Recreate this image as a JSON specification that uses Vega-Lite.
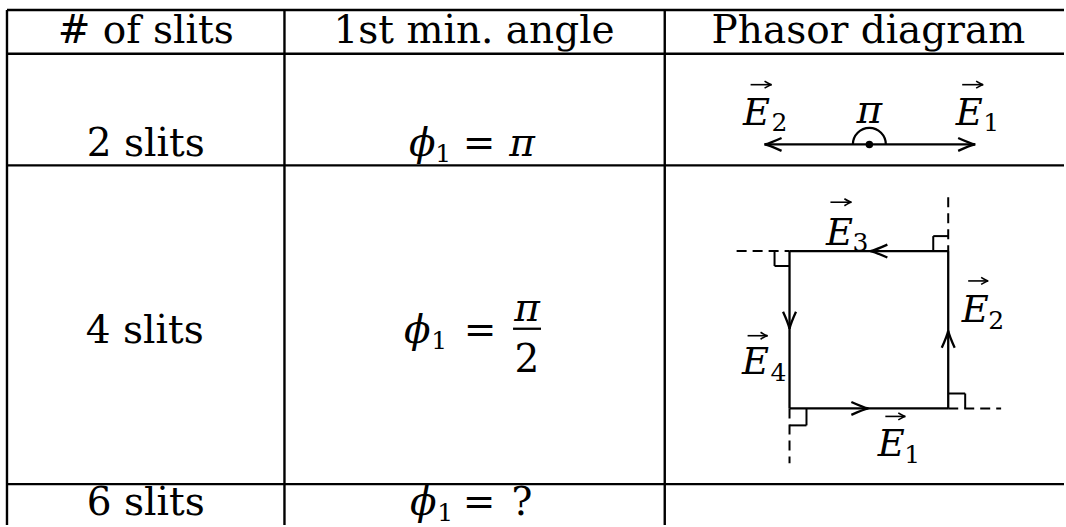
{
  "$schema": "https://vega.github.io/schema/vega-lite/v6.json",
  "width": 1066,
  "height": 527,
  "autosize": {"type": "fit", "contains": "padding"},
  "padding": 0,
  "background": "white",
  "config": {"view": {"stroke": null}},
  "datasets": {
    "grid": [
      {"x": 7, "y": 10, "x2": 1066, "y2": 10},
      {"x": 7, "y": 54, "x2": 1066, "y2": 54},
      {"x": 7, "y": 166, "x2": 1066, "y2": 166},
      {"x": 7, "y": 486, "x2": 1066, "y2": 486},
      {"x": 7, "y": 10, "x2": 7, "y2": 527},
      {"x": 285, "y": 10, "x2": 285, "y2": 527},
      {"x": 666, "y": 10, "x2": 666, "y2": 527}
    ],
    "vec": [
      {"x": 766, "y": 145, "x2": 977, "y2": 145},
      {"x": 791, "y": 410, "x2": 950, "y2": 410},
      {"x": 950, "y": 410, "x2": 950, "y2": 252},
      {"x": 950, "y": 252, "x2": 791, "y2": 252},
      {"x": 791, "y": 252, "x2": 791, "y2": 410},
      {"x": 514, "y": 330, "x2": 542, "y2": 330}
    ],
    "dash": [
      {"x": 738, "y": 252, "x2": 791, "y2": 252},
      {"x": 950, "y": 198, "x2": 950, "y2": 252},
      {"x": 950, "y": 410, "x2": 1003, "y2": 410},
      {"x": 791, "y": 410, "x2": 791, "y2": 465}
    ],
    "corner": [
      {"x": 935, "y": 252, "x2": 935, "y2": 237},
      {"x": 935, "y": 237, "x2": 950, "y2": 237},
      {"x": 776, "y": 252, "x2": 776, "y2": 267},
      {"x": 776, "y": 267, "x2": 791, "y2": 267},
      {"x": 808, "y": 410, "x2": 808, "y2": 427},
      {"x": 791, "y": 427, "x2": 808, "y2": 427},
      {"x": 950, "y": 395, "x2": 967, "y2": 395},
      {"x": 967, "y": 395, "x2": 967, "y2": 410}
    ],
    "heads": [
      {"x": 766, "y": 145, "a": 180},
      {"x": 977, "y": 145, "a": 0},
      {"x": 870, "y": 410, "a": 0},
      {"x": 950, "y": 332, "a": 270},
      {"x": 872, "y": 252, "a": 180},
      {"x": 791, "y": 330, "a": 90}
    ],
    "smallvec": [
      {"x": 752, "y": 85, "x2": 773, "y2": 85},
      {"x": 964, "y": 85, "x2": 985, "y2": 85},
      {"x": 832, "y": 203, "x2": 853, "y2": 203},
      {"x": 970, "y": 282, "x2": 990, "y2": 282},
      {"x": 749, "y": 337, "x2": 769, "y2": 337},
      {"x": 887, "y": 418, "x2": 907, "y2": 418}
    ],
    "pivot": [{"x": 871, "y": 145}],
    "roman": [
      {"x": 146, "y": 43, "t": "# of slits"},
      {"x": 475, "y": 43, "t": "1st min. angle"},
      {"x": 870, "y": 43, "t": "Phasor diagram"},
      {"x": 146, "y": 157, "t": "2 slits"},
      {"x": 145, "y": 344, "t": "4 slits"},
      {"x": 146, "y": 517, "t": "6 slits"},
      {"x": 480, "y": 157, "t": "="},
      {"x": 481, "y": 344, "t": "="},
      {"x": 528, "y": 373, "t": "2"},
      {"x": 480, "y": 517, "t": "="},
      {"x": 523, "y": 517, "t": "?"}
    ],
    "italic": [
      {"x": 423, "y": 157, "t": "ϕ"},
      {"x": 523, "y": 157, "t": "π"},
      {"x": 418, "y": 344, "t": "ϕ"},
      {"x": 528, "y": 322, "t": "π"},
      {"x": 424, "y": 517, "t": "ϕ"},
      {"x": 871, "y": 123, "t": "π"}
    ],
    "sub": [
      {"x": 444, "y": 163, "t": "1"},
      {"x": 440, "y": 350, "t": "1"},
      {"x": 446, "y": 523, "t": "1"}
    ],
    "elabel": [
      {"x": 758, "y": 125, "t": "E"},
      {"x": 971, "y": 125, "t": "E"},
      {"x": 841, "y": 246, "t": "E"},
      {"x": 977, "y": 323, "t": "E"},
      {"x": 757, "y": 375, "t": "E"},
      {"x": 893, "y": 458, "t": "E"}
    ],
    "esub": [
      {"x": 781, "y": 132, "t": "2"},
      {"x": 993, "y": 132, "t": "1"},
      {"x": 862, "y": 252, "t": "3"},
      {"x": 998, "y": 330, "t": "2"},
      {"x": 780, "y": 382, "t": "4"},
      {"x": 914, "y": 465, "t": "1"}
    ]
  },
  "layer": [
    {
      "data": {"name": "grid"},
      "mark": {"type": "rule", "color": "black", "strokeWidth": 2.4},
      "encoding": {
        "x": {"field": "x", "type": "quantitative", "scale": {"domain": [0, 1066], "nice": false, "zero": false}, "axis": null},
        "y": {"field": "y", "type": "quantitative", "scale": {"domain": [0, 527], "nice": false, "zero": false, "reverse": true}, "axis": null},
        "x2": {"field": "x2"},
        "y2": {"field": "y2"}
      }
    },
    {
      "data": {"name": "vec"},
      "mark": {"type": "rule", "color": "black", "strokeWidth": 2.3},
      "encoding": {
        "x": {"field": "x", "type": "quantitative"},
        "y": {"field": "y", "type": "quantitative"},
        "x2": {"field": "x2"},
        "y2": {"field": "y2"}
      }
    },
    {
      "data": {"name": "dash"},
      "mark": {"type": "rule", "color": "black", "strokeWidth": 2, "strokeDash": [10, 6]},
      "encoding": {
        "x": {"field": "x", "type": "quantitative"},
        "y": {"field": "y", "type": "quantitative"},
        "x2": {"field": "x2"},
        "y2": {"field": "y2"}
      }
    },
    {
      "data": {"name": "corner"},
      "mark": {"type": "rule", "color": "black", "strokeWidth": 2},
      "encoding": {
        "x": {"field": "x", "type": "quantitative"},
        "y": {"field": "y", "type": "quantitative"},
        "x2": {"field": "x2"},
        "y2": {"field": "y2"}
      }
    },
    {
      "data": {"name": "smallvec"},
      "mark": {"type": "rule", "color": "black", "strokeWidth": 1.6},
      "encoding": {
        "x": {"field": "x", "type": "quantitative"},
        "y": {"field": "y", "type": "quantitative"},
        "x2": {"field": "x2"},
        "y2": {"field": "y2"}
      }
    },
    {
      "data": {"name": "smallvec"},
      "mark": {"type": "point", "shape": "M -1 -0.5 C -0.6 -0.25 -0.25 -0.05 0 0 C -0.25 0.05 -0.6 0.25 -1 0.5", "size": 196, "filled": false, "color": "black", "strokeWidth": 1.6, "opacity": 1},
      "encoding": {
        "x": {"field": "x2", "type": "quantitative"},
        "y": {"field": "y2", "type": "quantitative"}
      }
    },
    {
      "data": {"name": "heads"},
      "mark": {"type": "point", "shape": "M -1 -0.38 C -0.6 -0.2 -0.25 -0.05 0 0 C -0.25 0.05 -0.6 0.2 -1 0.38", "size": 1156, "filled": false, "color": "black", "strokeWidth": 2.3, "opacity": 1},
      "encoding": {
        "x": {"field": "x", "type": "quantitative"},
        "y": {"field": "y", "type": "quantitative"},
        "angle": {"field": "a", "type": "quantitative", "scale": null}
      }
    },
    {
      "data": {"name": "pivot"},
      "mark": {"type": "point", "shape": "M -1 0 A 1 1 0 0 1 1 0", "size": 1089, "filled": false, "color": "black", "strokeWidth": 2.2, "opacity": 1},
      "encoding": {
        "x": {"field": "x", "type": "quantitative"},
        "y": {"field": "y", "type": "quantitative"}
      }
    },
    {
      "data": {"name": "pivot"},
      "mark": {"type": "point", "shape": "circle", "size": 56, "filled": true, "color": "black", "opacity": 1},
      "encoding": {
        "x": {"field": "x", "type": "quantitative"},
        "y": {"field": "y", "type": "quantitative"}
      }
    },
    {
      "data": {"name": "roman"},
      "mark": {"type": "text", "font": "DejaVu Serif", "fontSize": 39, "align": "center", "baseline": "alphabetic", "color": "black"},
      "encoding": {
        "x": {"field": "x", "type": "quantitative"},
        "y": {"field": "y", "type": "quantitative"},
        "text": {"field": "t"}
      }
    },
    {
      "data": {"name": "italic"},
      "mark": {"type": "text", "font": "DejaVu Serif", "fontStyle": "italic", "fontSize": 39, "align": "center", "baseline": "alphabetic", "color": "black"},
      "encoding": {
        "x": {"field": "x", "type": "quantitative"},
        "y": {"field": "y", "type": "quantitative"},
        "text": {"field": "t"}
      }
    },
    {
      "data": {"name": "sub"},
      "mark": {"type": "text", "font": "DejaVu Serif", "fontSize": 25, "align": "center", "baseline": "alphabetic", "color": "black"},
      "encoding": {
        "x": {"field": "x", "type": "quantitative"},
        "y": {"field": "y", "type": "quantitative"},
        "text": {"field": "t"}
      }
    },
    {
      "data": {"name": "elabel"},
      "mark": {"type": "text", "font": "DejaVu Serif", "fontStyle": "italic", "fontSize": 37, "align": "center", "baseline": "alphabetic", "color": "black"},
      "encoding": {
        "x": {"field": "x", "type": "quantitative"},
        "y": {"field": "y", "type": "quantitative"},
        "text": {"field": "t"}
      }
    },
    {
      "data": {"name": "esub"},
      "mark": {"type": "text", "font": "DejaVu Serif", "fontSize": 25, "align": "center", "baseline": "alphabetic", "color": "black"},
      "encoding": {
        "x": {"field": "x", "type": "quantitative"},
        "y": {"field": "y", "type": "quantitative"},
        "text": {"field": "t"}
      }
    }
  ]
}
